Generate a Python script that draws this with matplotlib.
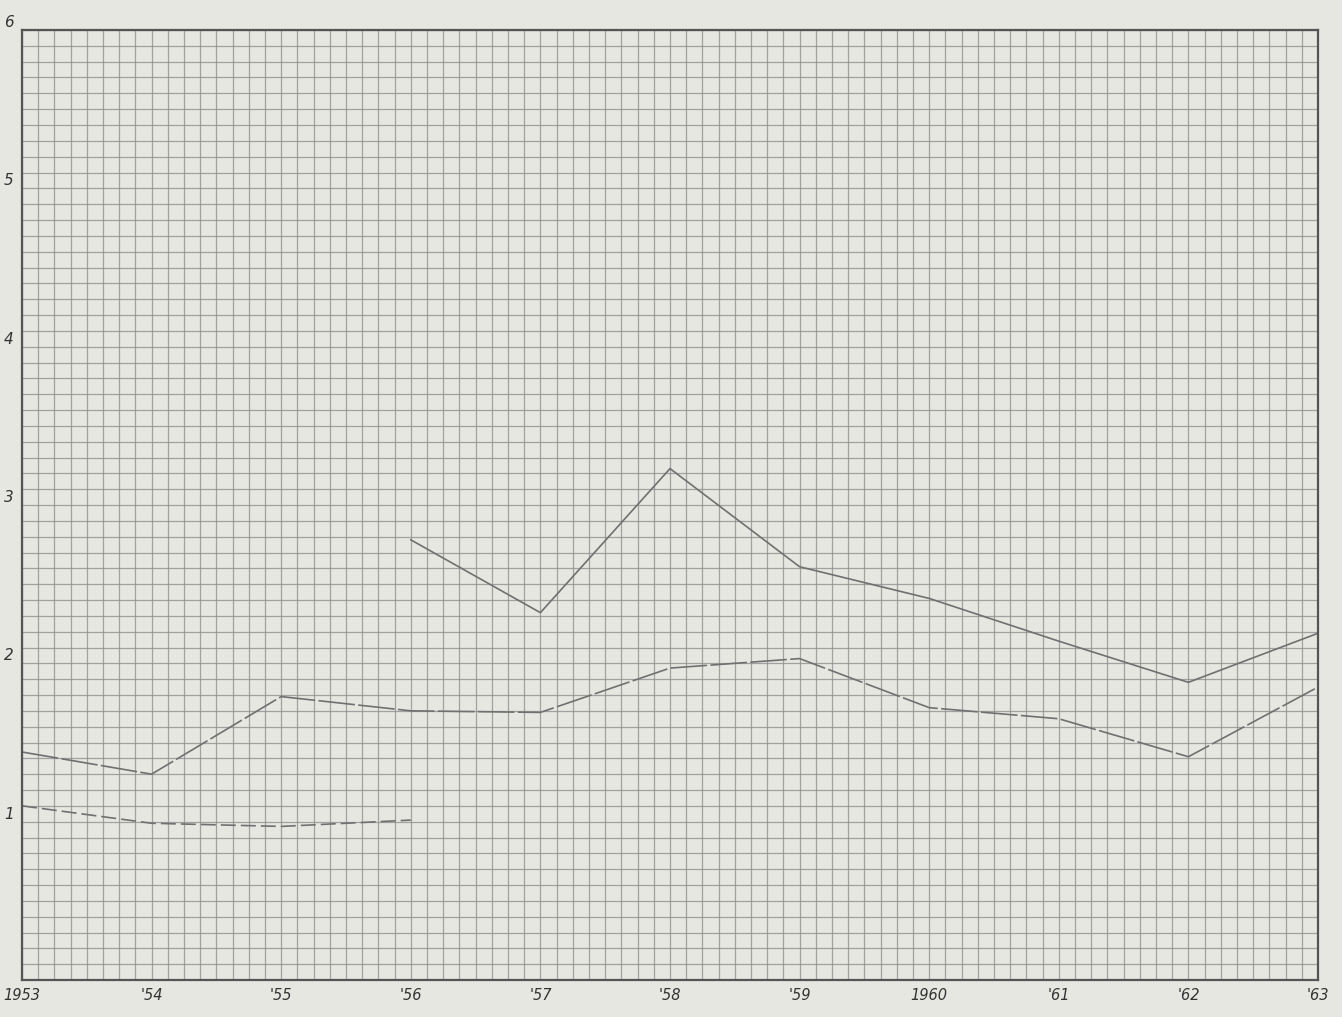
#!/usr/bin/env python3
"""
Hand-drawn style line chart on graph paper, 1953-1963.
"""

import numpy as np
import matplotlib.pyplot as plt
from matplotlib.ticker import MultipleLocator

years = [1953, 1954, 1955, 1956, 1957, 1958, 1959, 1960, 1961, 1962, 1963]
year_labels = ["1953", "'54", "'55", "'56", "'57", "'58", "'59", "1960", "'61", "'62", "'63"]

# upper solid line, starts in 1956
upper_years = [1956, 1957, 1958, 1959, 1960, 1961, 1962, 1963]
upper_vals = [2.78, 2.32, 3.23, 2.61, 2.41, 2.14, 1.88, 2.19]

# middle line, whole period (partly long-dashed)
middle_vals = [1.44, 1.30, 1.79, 1.70, 1.69, 1.97, 2.03, 1.72, 1.65, 1.41, 1.85]

# lower dashed line, 1953-1956 only
lower_years = [1953, 1954, 1955, 1956]
lower_vals = [1.10, 0.99, 0.97, 1.01]

y_ticks = [1, 2, 3, 4, 5, 6]

paper = "#e6e7e1"
ink = "#707070"
grid_col = "#909090"

fig = plt.figure(figsize=(13.42, 10.17), dpi=100, facecolor=paper)
ax = fig.add_axes([22 / 1342, 37 / 1017, 1296 / 1342, 950 / 1017])
ax.set_facecolor(paper)

ax.set_xlim(1953, 1963)
ax.set_ylim(0, 6)

# graph paper: 8 squares per year, 10 per unit
ax.xaxis.set_minor_locator(MultipleLocator(1 / 8))
ax.yaxis.set_minor_locator(MultipleLocator(0.1))
ax.set_xticks(years)
ax.set_yticks(y_ticks)
ax.grid(which="both", color=grid_col, linewidth=0.9, alpha=0.8)
ax.set_axisbelow(True)

ax.set_xticklabels(year_labels, fontstyle="italic", fontsize=10.5, color="#333333")
ax.set_yticklabels([str(v) for v in y_ticks], fontstyle="italic", fontsize=11,
                   color="#333333", va="bottom")
ax.tick_params(which="both", length=0)
ax.tick_params(axis="x", pad=6)
ax.tick_params(axis="y", pad=6)

for sp in ax.spines.values():
    sp.set_color("#555555")
    sp.set_linewidth(1.6)

ax.plot(upper_years, upper_vals, color=ink, linewidth=1.2)
ax.plot(years, middle_vals, color=ink, linewidth=1.2, dashes=(22, 2))
ax.plot(lower_years, lower_vals, color=ink, linewidth=1.2, dashes=(9, 3))

fig.savefig("out.png", dpi=100, facecolor=paper)
